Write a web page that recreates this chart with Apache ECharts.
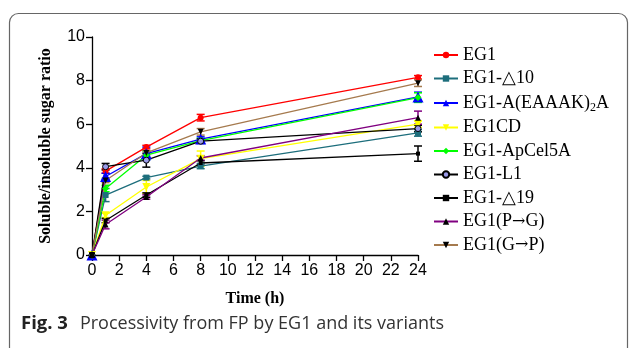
<!DOCTYPE html>
<html>
<head>
<meta charset="utf-8">
<script src="https://cdn.jsdelivr.net/npm/echarts@6/dist/echarts.min.js"></script>
<style>html,body{margin:0;padding:0;background:#fff;}#c{width:630px;height:348px;}</style>
</head>
<body>
<div id="c"></div>
<script>
const times = [0, 1, 4, 8, 24];
const xTicks = [0,2,4,6,8,10,12,14,16,18,20,22,24];
const yTicks = [0,2,4,6,8,10];

const seriesNames = ['EG1','EG1-\u25B310','EG1-A(EAAAK)2A','EG1CD','EG1-ApCel5A','EG1-L1','EG1-\u25B319','EG1(P\u2192G)','EG1(G\u2192P)'];

const eg1        = [0, 3.85, 4.95, 6.30, 8.15];
const eg1d10     = [0, 2.75, 3.55, 4.08, 5.60];
const eg1eaaak   = [0, 3.60, 4.65, 5.32, 7.25];
const eg1cd      = [0, 1.82, 3.12, 4.42, 6.00];
const eg1apcel   = [0, 3.05, 4.58, 5.25, 7.22];
const eg1l1      = [0, 4.05, 4.35, 5.22, 5.80];
const eg1d19     = [0, 1.58, 2.75, 4.22, 4.65];
const eg1pg      = [0, 1.40, 2.66, 4.45, 6.30];
const eg1gp      = [0, 3.42, 4.68, 5.65, 7.88];

const err_eg1      = [0, 0.10, 0.08, 0.15, 0.08];
const err_eg1d10   = [0, 0.30, 0.06, 0.12, 0.15];
const err_eg1eaaak = [0, 0.15, 0.30, 0.10, 0.22];
const err_eg1cd    = [0, 0.10, 0.30, 0.35, 0.15];
const err_eg1apcel = [0, 0.15, 0.20, 0.10, 0.22];
const err_eg1l1    = [0, 0.15, 0.32, 0.10, 0.15];
const err_eg1d19   = [0, 0.10, 0.10, 0.10, 0.35];
const err_eg1pg    = [0, 0.20, 0.10, 0.10, 0.30];
const err_eg1gp    = [0, 0.10, 0.10, 0.15, 0.15];

const values = [eg1, eg1d10, eg1eaaak, eg1cd, eg1apcel, eg1l1, eg1d19, eg1pg, eg1gp];
const errors = [err_eg1, err_eg1d10, err_eg1eaaak, err_eg1cd, err_eg1apcel, err_eg1l1, err_eg1d19, err_eg1pg, err_eg1gp];

const lineColors = ['#ff0000','#1d6e7c','#0000ff','#ffff00','#00ff00','#000000','#000000','#800080','#a57a4e'];
const markerColors = ['#ff0000','#1d6e7c','#0000ff','#ffff00','#00ff00','#9a9ae8','#000000','#000000','#000000'];
const errColors = ['#ff0000','#1d6e7c','#0000ff','#ffff00','#00ff00','#000000','#000000','#800080','#a57a4e'];
const symbols = ['circle','rect','triangle','path://M0,0 L10,0 L5,9 Z','diamond','circle','rect','triangle','path://M0,0 L10,0 L5,9 Z'];
const symbolSizes = [6,6,11,8,7,6,4,6,6];

const series = [];
values.forEach((v, i) => {
  series.push({
    type: 'custom',
    name: seriesNames[i] + ' error',
    z: 2,
    silent: true,
    color: errColors[i],
    data: times.map((t, k) => [t, v[k] - errors[i][k], v[k] + errors[i][k]]),
    renderItem: function (params, api) {
      const lo = api.coord([api.value(0), api.value(1)]);
      const hi = api.coord([api.value(0), api.value(2)]);
      if (Math.abs(hi[1] - lo[1]) < 1) return;
      const w = 4;
      const st = { stroke: errColors[i], lineWidth: 1.5 };
      return {
        type: 'group',
        children: [
          { type: 'line', shape: { x1: lo[0], y1: lo[1], x2: hi[0], y2: hi[1] }, style: st },
          { type: 'line', shape: { x1: lo[0] - w, y1: lo[1], x2: lo[0] + w, y2: lo[1] }, style: st },
          { type: 'line', shape: { x1: hi[0] - w, y1: hi[1], x2: hi[0] + w, y2: hi[1] }, style: st }
        ]
      };
    }
  });
  series.push({
    type: 'line',
    name: seriesNames[i],
    data: times.map((t, k) => [t, v[k]]),
    symbol: symbols[i],
    symbolSize: symbolSizes[i],
    showAllSymbol: true,
    z: 3,
    lineStyle: { color: lineColors[i], width: 1.3 },
    itemStyle: { color: markerColors[i], borderColor: i === 5 ? '#000' : markerColors[i], borderWidth: i === 5 ? 1 : 0 },
    color: lineColors[i]
  });
});

const chart = echarts.init(document.getElementById('c'), null, { renderer: 'canvas' });
chart.setOption({
  animation: false,
  backgroundColor: '#fff',
  grid: { left: 92, top: 37, width: 326, height: 218 },
  xAxis: {
    type: 'value', min: 0, max: 24, interval: 2,
    axisLine: { lineStyle: { color: '#000', width: 1.3 } },
    axisTick: { show: true, length: 6, lineStyle: { color: '#000', width: 1.3 } },
    axisLabel: { color: '#000', fontFamily: 'Liberation Sans', fontSize: 16, margin: 8,
      formatter: v => xTicks.includes(v) ? String(v) : '' },
    splitLine: { show: false },
    name: 'Time (h)', nameLocation: 'middle', nameGap: 36,
    nameTextStyle: { color: '#000', fontFamily: 'Liberation Serif', fontWeight: 'bold', fontSize: 16 }
  },
  yAxis: {
    type: 'value', min: 0, max: 10, interval: 2,
    axisLine: { show: true, lineStyle: { color: '#000', width: 1.3 } },
    axisTick: { show: true, length: 6, lineStyle: { color: '#000', width: 1.3 } },
    axisLabel: { color: '#000', fontFamily: 'Liberation Sans', fontSize: 16, margin: 7,
      formatter: v => yTicks.includes(v) ? String(v) : '' },
    splitLine: { show: false },
    name: 'Soluble/insoluble sugar ratio', nameLocation: 'middle', nameGap: 38,
    nameTextStyle: { color: '#000', fontFamily: 'Liberation Serif', fontWeight: 'bold', fontSize: 16 }
  },
  legend: {
    orient: 'vertical', left: 428, top: 40,
    itemWidth: 24, itemHeight: 8, itemGap: 3.5,
    data: seriesNames.map(n => ({ name: n })),
    textStyle: { color: '#000', fontFamily: 'Liberation Serif', fontSize: 18, lineHeight: 20,
      rich: { sub: { fontFamily: 'Liberation Serif', fontSize: 12, lineHeight: 20, padding: [10, 0, 0, 0], color: '#000' },
              n: { fontFamily: 'Liberation Serif', fontSize: 18, lineHeight: 20, color: '#000' },
              a: { fontFamily: 'DejaVu Serif', fontSize: 16, lineHeight: 20, color: '#000' } } },
    formatter: function (name) {
      if (name === 'EG1-A(EAAAK)2A') return '{n|EG1-A(EAAAK)}{sub|2}{n|A}';
      if (name.indexOf('\u2192') >= 0) {
        const parts = name.split('\u2192');
        return '{n|' + parts[0] + '}{a|\u2192}{n|' + parts[1] + '}';
      }
      return name;
    }
  },
  graphic: [
    { type: 'rect', shape: { x: 9.5, y: 13.5, width: 618, height: 345, r: 9 },
      style: { fill: 'none', stroke: '#666', lineWidth: 1.2 }, z: -1, silent: true },
    { type: 'text', left: 21, top: 314,
      style: { text: '{b|Fig. 3}{r|Processivity from FP by EG1 and its variants}',
        rich: { b: { fontFamily: 'Open Sans', fontWeight: 'bold', fontSize: 18.5, fill: '#222', padding: [0, 12, 0, 0] },
                r: { fontFamily: 'Open Sans', fontSize: 18, fill: '#333' } } } }
  ],
  series: series
});
</script>
</body>
</html>
